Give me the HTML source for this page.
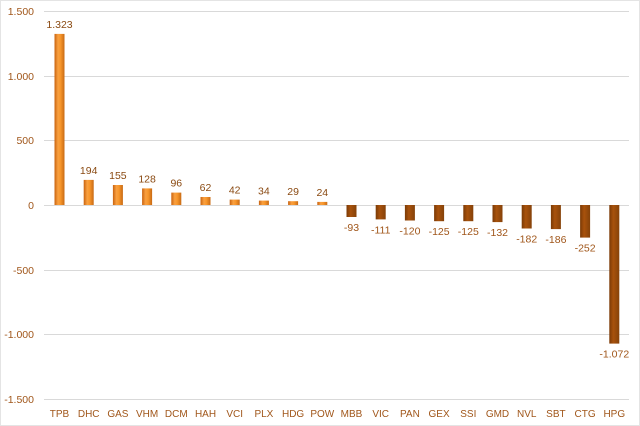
<!DOCTYPE html><html><head><meta charset="utf-8"><style>body{margin:0;background:#fff}svg{display:block;font-family:"Liberation Sans",sans-serif}</style></head><body>
<svg width="640" height="426" viewBox="0 0 640 426" xmlns="http://www.w3.org/2000/svg">
<defs>
<linearGradient id="p" x1="0" x2="1"><stop offset="0" stop-color="#c8620f"/><stop offset="0.35" stop-color="#f9a040"/><stop offset="0.6" stop-color="#f7962b"/><stop offset="1" stop-color="#c86a14"/></linearGradient>
<linearGradient id="n" x1="0" x2="1"><stop offset="0" stop-color="#7a3a06"/><stop offset="0.4" stop-color="#a8520c"/><stop offset="1" stop-color="#85420a"/></linearGradient>
</defs>
<rect x="0.5" y="0.5" width="639" height="425" fill="#fff" stroke="#e4e4e4"/>
<g stroke="#d9d9d9" stroke-width="1">
<line x1="44" x2="629" y1="11.5" y2="11.5"/><line x1="44" x2="629" y1="76.5" y2="76.5"/><line x1="44" x2="629" y1="140.5" y2="140.5"/><line x1="44" x2="629" y1="205.5" y2="205.5"/><line x1="44" x2="629" y1="270.5" y2="270.5"/><line x1="44" x2="629" y1="334.5" y2="334.5"/><line x1="44" x2="629" y1="399.5" y2="399.5"/>
</g>
<g fill="#a0561a" font-size="10.5" text-anchor="end">
<text x="34" y="15">1.500</text><text x="34" y="80">1.000</text><text x="34" y="144">500</text><text x="34" y="209">0</text><text x="34" y="274">-500</text><text x="34" y="338">-1.000</text><text x="34" y="403">-1.500</text>
</g>
<g fill="url(#p)">
<rect x="54.5" y="33.9" width="10" height="171.1"/>
<rect x="83.7" y="179.9" width="10" height="25.1"/>
<rect x="112.9" y="185" width="10" height="20"/>
<rect x="142.1" y="188.4" width="10" height="16.6"/>
<rect x="171.3" y="192.6" width="10" height="12.4"/>
<rect x="200.5" y="197" width="10" height="8"/>
<rect x="229.7" y="199.6" width="10" height="5.4"/>
<rect x="258.9" y="200.6" width="10" height="4.4"/>
<rect x="288.1" y="201.2" width="10" height="3.8"/>
<rect x="317.3" y="201.9" width="10" height="3.1"/>
</g>
<g fill="url(#n)">
<rect x="346.5" y="205" width="10" height="12"/>
<rect x="375.7" y="205" width="10" height="14.4"/>
<rect x="404.9" y="205" width="10" height="15.5"/>
<rect x="434.1" y="205" width="10" height="16.2"/>
<rect x="463.3" y="205" width="10" height="16.2"/>
<rect x="492.5" y="205" width="10" height="17.1"/>
<rect x="521.7" y="205" width="10" height="23.5"/>
<rect x="550.9" y="205" width="10" height="24.1"/>
<rect x="580.1" y="205" width="10" height="32.6"/>
<rect x="609.3" y="205" width="10" height="138.6"/>
</g>
<g fill="#8a4a12" font-size="10.5" text-anchor="middle">
<text x="59.5" y="28">1.323</text>
<text x="88.7" y="174">194</text>
<text x="117.9" y="179">155</text>
<text x="147.1" y="182.4">128</text>
<text x="176.3" y="186.6">96</text>
<text x="205.5" y="191">62</text>
<text x="234.7" y="193.6">42</text>
<text x="263.9" y="194.6">34</text>
<text x="293.1" y="195.2">29</text>
<text x="322.3" y="195.9">24</text>
</g>
<g fill="#a0561a" font-size="10.5" text-anchor="middle">
<text x="351.5" y="231">-93</text>
<text x="380.7" y="233.4">-111</text>
<text x="409.9" y="234.5">-120</text>
<text x="439.1" y="235.2">-125</text>
<text x="468.3" y="235.2">-125</text>
<text x="497.5" y="236.1">-132</text>
<text x="526.7" y="242.5">-182</text>
<text x="555.9" y="243.1">-186</text>
<text x="585.1" y="251.6">-252</text>
<text x="614.3" y="357.6">-1.072</text>
</g>
<g fill="#a0561a" font-size="10" text-anchor="middle">
<text x="59.5" y="417">TPB</text><text x="88.7" y="417">DHC</text><text x="117.9" y="417">GAS</text><text x="147.1" y="417">VHM</text><text x="176.3" y="417">DCM</text><text x="205.5" y="417">HAH</text><text x="234.7" y="417">VCI</text><text x="263.9" y="417">PLX</text><text x="293.1" y="417">HDG</text><text x="322.3" y="417">POW</text><text x="351.5" y="417">MBB</text><text x="380.7" y="417">VIC</text><text x="409.9" y="417">PAN</text><text x="439.1" y="417">GEX</text><text x="468.3" y="417">SSI</text><text x="497.5" y="417">GMD</text><text x="526.7" y="417">NVL</text><text x="555.9" y="417">SBT</text><text x="585.1" y="417">CTG</text><text x="614.3" y="417">HPG</text>
</g>
</svg></body></html>
